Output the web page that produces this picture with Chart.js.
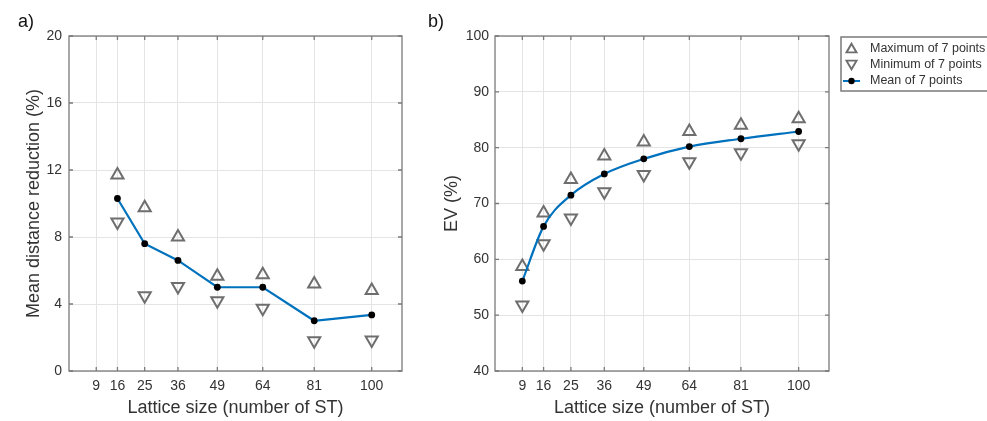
<!DOCTYPE html>
<html>
<head>
<meta charset="utf-8">
<script src="https://cdn.jsdelivr.net/npm/chart.js@4.4.1/dist/chart.umd.min.js"></script>
<style>
  html, body { margin: 0; padding: 0; background: #fff; }
  #wrap { position: relative; width: 987px; height: 421px; overflow: hidden; }
  canvas { position: absolute; top: 0; }
  #ca { left: 0; }
  #cb { left: 420px; }
</style>
</head>
<body>
<div id="wrap">
  <canvas id="ca" width="420" height="421"></canvas>
  <canvas id="cb" width="567" height="421"></canvas>
</div>
<script>
// tick positions on the lattice axis
const latticeSizes = [9, 16, 25, 36, 49, 64, 81, 100];

// a) mean distance reduction (%), starts at 16
const distSizes = [16, 25, 36, 49, 64, 81, 100];
const distMax = [11.7, 9.75, 8.0, 5.65, 5.75, 5.2, 4.8];
const distMin = [8.9, 4.5, 5.05, 4.2, 3.75, 1.8, 1.85];
const distMean = [10.3, 7.6, 6.6, 5.0, 5.0, 3.0, 3.35];

// b) EV (%)
const evSizes = [9, 16, 25, 36, 49, 64, 81, 100];
const evMax = [58.7, 68.3, 74.3, 78.5, 81.0, 82.9, 84.0, 85.2];
const evMin = [51.8, 62.8, 67.4, 72.1, 75.2, 77.5, 79.1, 80.7];
const evMean = [56.1, 65.9, 71.5, 75.3, 78.0, 80.2, 81.6, 82.9];

const legendLabels = ["Maximum of 7 points", "Minimum of 7 points", "Mean of 7 points"];

const FONT = "'Liberation Sans', Arial, Helvetica, sans-serif";
const TXT = "#333333";
const BOX = "#7a7a7a";
const GRID = "#e4e4e4";
const TRI = "#6e6e6e";
const BLUE = "#0072BD";

Chart.defaults.font.family = FONT;
Chart.defaults.color = TXT;

function pts(xs, ys) {
  return xs.map((x, i) => ({ x: x, y: ys[i] }));
}

// box, inward ticks, panel label and (optionally) legend
const framePlugin = {
  id: "frame",
  beforeDatasetsDraw: (chart) => {
    const { ctx, chartArea: a, scales } = chart;
    ctx.save();
    ctx.strokeStyle = BOX;
    ctx.lineWidth = 1.3;
    ctx.strokeRect(a.left, a.top, a.right - a.left, a.bottom - a.top);
    ctx.beginPath();
    scales.x.ticks.forEach((t) => {
      const px = scales.x.getPixelForValue(t.value);
      ctx.moveTo(px, a.bottom); ctx.lineTo(px, a.bottom - 4);
      ctx.moveTo(px, a.top); ctx.lineTo(px, a.top + 4);
    });
    scales.y.ticks.forEach((t) => {
      const py = scales.y.getPixelForValue(t.value);
      ctx.moveTo(a.left, py); ctx.lineTo(a.left + 4, py);
      ctx.moveTo(a.right, py); ctx.lineTo(a.right - 4, py);
    });
    ctx.stroke();
    ctx.restore();
  },
  afterDraw: (chart, args, opts) => {
    const { ctx } = chart;
    ctx.save();
    ctx.fillStyle = "#111";
    ctx.font = "18px " + FONT;
    ctx.textBaseline = "alphabetic";
    ctx.fillText(opts.panel, opts.panelX, 27);
    if (opts.legend) {
      const lx = 421, ly = 37;
      ctx.fillStyle = "#fff";
      ctx.fillRect(lx, ly, 200, 54);
      ctx.strokeStyle = BOX;
      ctx.lineWidth = 1.5;
      ctx.strokeRect(lx, ly, 200, 54);
      const rows = [48.5, 64.5, 81];
      const ix = 431.5;
      ctx.lineWidth = 1.9;
      ctx.strokeStyle = TRI;
      Chart.helpers.drawPoint(ctx, { pointStyle: "triangle", radius: 5.8, rotation: 0, borderWidth: 1.9 }, ix, rows[0] + 1);
      Chart.helpers.drawPoint(ctx, { pointStyle: "triangle", radius: 5.8, rotation: 180, borderWidth: 1.9 }, ix, rows[1] - 1);
      ctx.strokeStyle = BLUE;
      ctx.lineWidth = 2;
      ctx.beginPath();
      ctx.moveTo(423, rows[2]); ctx.lineTo(440, rows[2]);
      ctx.stroke();
      ctx.fillStyle = "#000";
      ctx.beginPath();
      ctx.arc(ix, rows[2], 3.2, 0, Math.PI * 2);
      ctx.fill();
      ctx.fillStyle = TXT;
      ctx.font = "12.5px " + FONT;
      ctx.textBaseline = "middle";
      legendLabels.forEach((s, i) => ctx.fillText(s, 450, rows[i]));
    }
    ctx.restore();
  },
};

function makeChart(id, cfg) {
  return new Chart(document.getElementById(id), {
    type: "line",
    data: {
      datasets: [
        {
          label: legendLabels[2],
          data: pts(cfg.sizes, cfg.mean),
          borderColor: BLUE,
          borderWidth: 2.2,
          pointRadius: 3.4,
          pointBackgroundColor: "#000",
          pointBorderColor: "#000",
          pointBorderWidth: 0,
          tension: cfg.smooth ? 0.4 : 0,
          cubicInterpolationMode: cfg.smooth ? "monotone" : "default",
        },
        {
          label: legendLabels[0],
          data: pts(cfg.sizes, cfg.max),
          showLine: false,
          pointStyle: "triangle",
          pointRadius: 7,
          pointBorderColor: TRI,
          pointBackgroundColor: "rgba(0,0,0,0)",
          pointBorderWidth: 2,
        },
        {
          label: legendLabels[1],
          data: pts(cfg.sizes, cfg.min),
          showLine: false,
          pointStyle: "triangle",
          pointRotation: 180,
          pointRadius: 7,
          pointBorderColor: TRI,
          pointBackgroundColor: "rgba(0,0,0,0)",
          pointBorderWidth: 2,
        },
      ],
    },
    options: {
      responsive: false,
      animation: false,
      devicePixelRatio: 1,
      layout: { autoPadding: false, padding: { left: 0, top: 36, right: cfg.padRight, bottom: 0 } },
      plugins: {
        legend: { display: false },
        tooltip: { enabled: false },
        frame: { panel: cfg.panel, panelX: cfg.panelX, legend: cfg.legend },
      },
      scales: {
        x: {
          type: "linear",
          min: 0,
          max: 110,
          afterBuildTicks: (s) => { s.ticks = latticeSizes.map((v) => ({ value: v })); },
          afterFit: (s) => { s.height = 50; },
          ticks: { font: { size: 14 }, color: TXT, padding: 7, autoSkip: false, maxRotation: 0 },
          grid: { color: GRID, drawTicks: false },
          border: { display: false },
          title: { display: true, text: "Lattice size (number of ST)", font: { size: 18 }, color: TXT, padding: { top: 0, bottom: 2.2 } },
        },
        y: {
          min: cfg.yMin,
          max: cfg.yMax,
          afterFit: (s) => { s.width = cfg.yWidth; },
          ticks: { stepSize: cfg.yStep, font: { size: 14 }, color: TXT, padding: cfg.yPad },
          grid: { color: GRID, drawTicks: false },
          border: { display: false },
          title: { display: true, text: cfg.yTitle, font: { size: 18 }, color: TXT, padding: { top: cfg.yTitlePad, bottom: 0 } },
        },
      },
    },
    plugins: [framePlugin],
  });
}

makeChart("ca", {
  sizes: distSizes, max: distMax, min: distMin, mean: distMean,
  yMin: 0, yMax: 20, yStep: 4, yTitle: "Mean distance reduction (%)",
  yWidth: 69, yPad: 7, yTitlePad: 23.4, padRight: 18,
  panel: "a)", panelX: 18, smooth: false, legend: false,
});

makeChart("cb", {
  sizes: evSizes, max: evMax, min: evMin, mean: evMean,
  yMin: 40, yMax: 100, yStep: 10, yTitle: "EV (%)",
  yWidth: 75, yPad: 6, yTitlePad: 21.2, padRight: 158,
  panel: "b)", panelX: 8, smooth: true, legend: true,
});
</script>
</body>
</html>
